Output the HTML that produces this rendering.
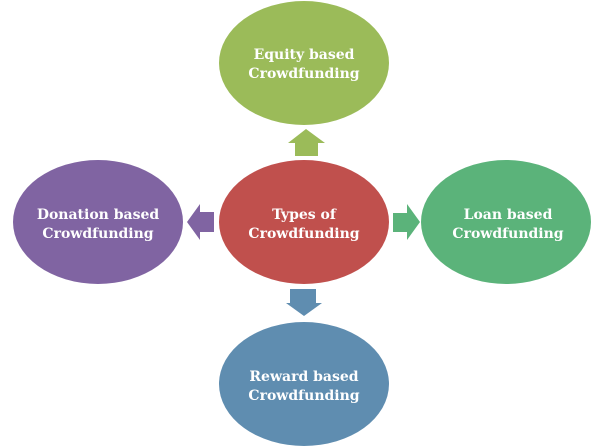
<!DOCTYPE html>
<html><head><meta charset="utf-8"><style>
html,body{margin:0;padding:0;background:#fff;}
svg{display:block}
text{font-family:"DejaVu Serif","Liberation Serif",serif;font-weight:bold;font-size:14px;fill:#fff;text-anchor:middle}
</style></head><body>
<svg width="604" height="447" viewBox="0 0 604 447" xmlns="http://www.w3.org/2000/svg">
<ellipse cx="304" cy="63" rx="85" ry="62" fill="#9bbb59"/>
<ellipse cx="304" cy="222" rx="85" ry="62" fill="#c0504d"/>
<ellipse cx="98" cy="222" rx="85" ry="62" fill="#8064a2"/>
<ellipse cx="506" cy="222" rx="85" ry="62" fill="#5bb37a"/>
<ellipse cx="304" cy="384" rx="85" ry="62" fill="#5f8db0"/>
<polygon points="306,129 325,143 318,143 318,156 295,156 295,143 288,143" fill="#9bbb59"/>
<polygon points="420,222 407,204 407,213 393,213 393,232 407,232 407,240" fill="#5bb37a"/>
<polygon points="187,222 200,204 200,212 214,212 214,232 200,232 200,240" fill="#8064a2"/>
<polygon points="304,316 322,303 316,303 316,289 290,289 290,303 286,303" fill="#5f8db0"/>
<text x="304" y="59">Equity based</text>
<text x="304" y="78">Crowdfunding</text>
<text x="304" y="219">Types of</text>
<text x="304" y="238">Crowdfunding</text>
<text x="98" y="219">Donation based</text>
<text x="98" y="238">Crowdfunding</text>
<text x="508" y="219">Loan based</text>
<text x="508" y="238">Crowdfunding</text>
<text x="304" y="381">Reward based</text>
<text x="304" y="400">Crowdfunding</text>
</svg>
</body></html>
